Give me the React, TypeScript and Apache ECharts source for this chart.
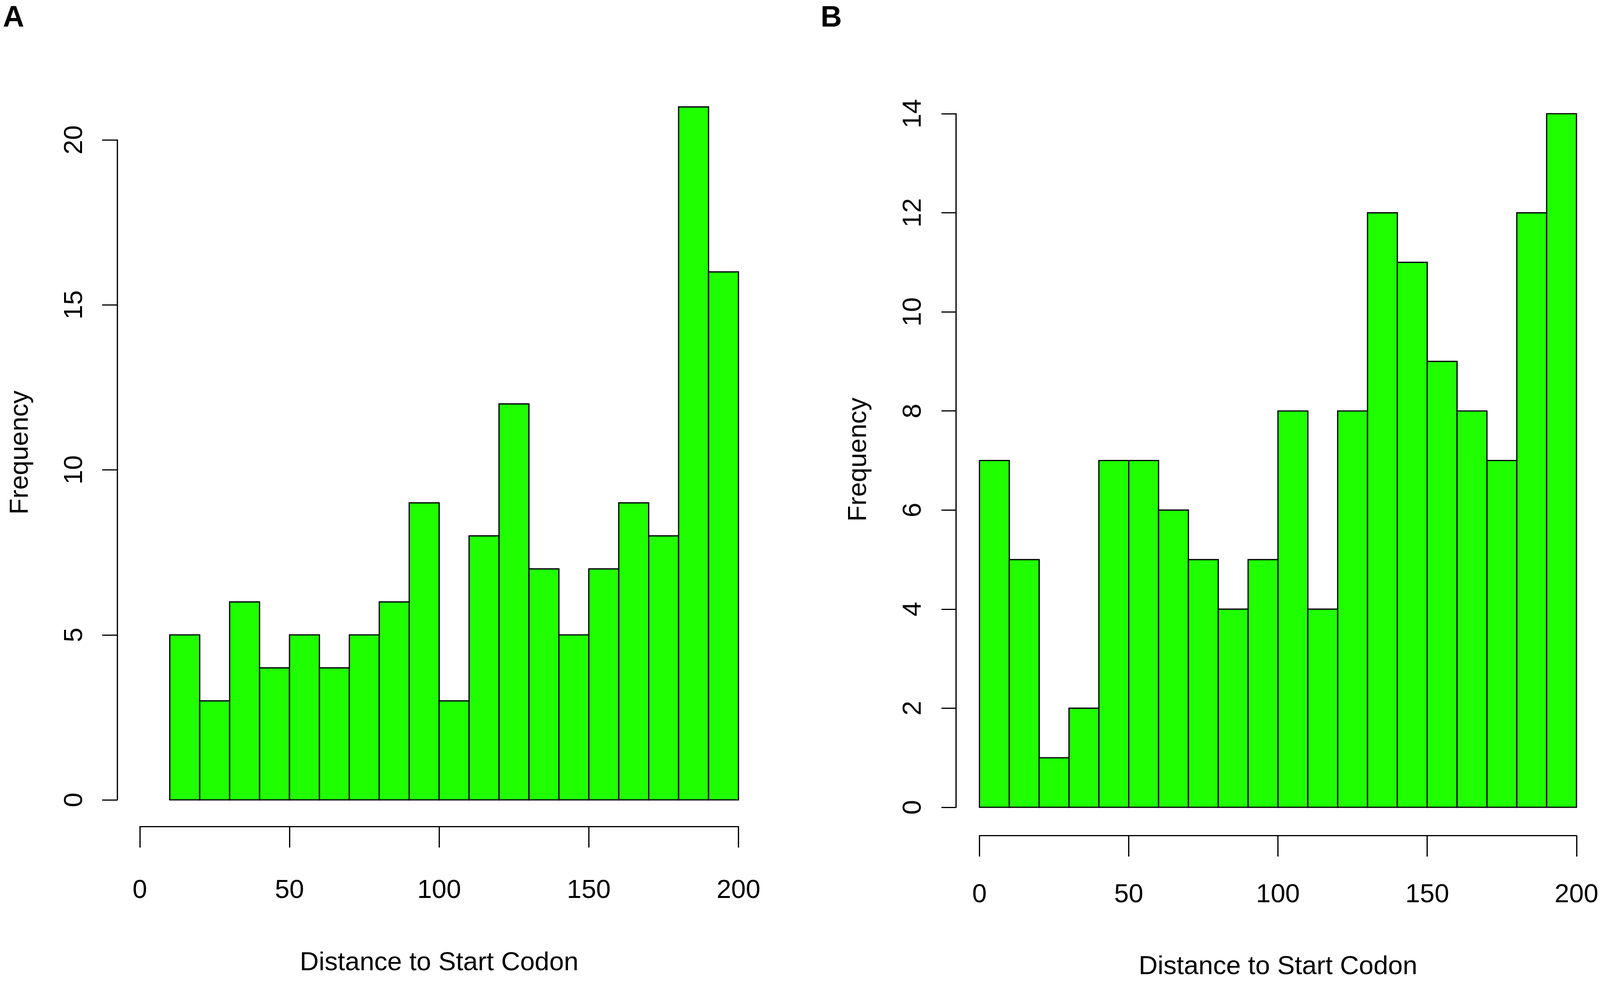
import React, { useEffect, useRef } from "react";
import * as echarts from "echarts";

// ---- Data ----
const breaksA = [10, 20, 30, 40, 50, 60, 70, 80, 90, 100, 110, 120, 130, 140, 150, 160, 170, 180, 190, 200];
const countsA = [5, 3, 6, 4, 5, 4, 5, 6, 9, 3, 8, 12, 7, 5, 7, 9, 8, 21, 16];

const breaksB = [0, 10, 20, 30, 40, 50, 60, 70, 80, 90, 100, 110, 120, 130, 140, 150, 160, 170, 180, 190, 200];
const countsB = [7, 5, 1, 2, 7, 7, 6, 5, 4, 5, 8, 4, 8, 12, 11, 9, 8, 7, 12, 14];

const xTicks = [0, 50, 100, 150, 200];
const yTicksA = [0, 5, 10, 15, 20];
const yTicksB = [0, 2, 4, 6, 8, 10, 12, 14];

const panelLabels = ["A", "B"];
const xTitle = "Distance to Start Codon";
const yTitle = "Frequency";

const GREEN = "#1fff00";
const FONT = "Liberation Sans, Arial, Helvetica, sans-serif";
const REF_W = 4966;
const REF_H = 2531;

function binData(breaks: number[], counts: number[]) {
  return counts.map((c, i) => [breaks[i], breaks[i + 1], c]);
}

export default function App() {
  const ref = useRef<HTMLDivElement>(null);

  useEffect(() => {
    const el = ref.current;
    if (!el) return;
    const chart = echarts.init(el, null, { renderer: "svg" });

    const build = () => {
      const W = el.clientWidth || REF_W;
      const H = el.clientHeight || REF_H;
      const sx = W / REF_W;
      const sy = H / REF_H;
      const sf = Math.sqrt(sx * sy);
      const X = (v: number) => v * sx;
      const Y = (v: number) => v * sy;
      const FS = 74 * sf;
      const LW = Math.max(1, 3.5 * sf);

      const renderBin = (params: any, api: any) => {
        const p0 = api.coord([api.value(0), 0]);
        const p1 = api.coord([api.value(1), api.value(2)]);
        return {
          type: "rect",
          shape: { x: p0[0], y: p1[1], width: p1[0] - p0[0], height: p0[1] - p1[1] },
          style: { fill: GREEN, stroke: "#000", lineWidth: LW },
        };
      };

      const xAxisCfg = (gridIndex: number, offset: number, margin: number, nameGap: number) => ({
        gridIndex,
        type: "value",
        min: xTicks[0],
        max: xTicks[xTicks.length - 1],
        interval: xTicks[1] - xTicks[0],
        offset: Y(offset),
        name: xTitle,
        nameLocation: "middle",
        nameGap: Y(nameGap),
        nameTextStyle: { color: "#000", fontSize: FS, fontFamily: FONT },
        axisLine: { show: true, onZero: false, lineStyle: { color: "#000", width: LW } },
        axisTick: { show: true, length: Y(54), lineStyle: { color: "#000", width: LW } },
        axisLabel: { show: true, color: "#000", fontSize: FS, fontFamily: FONT, margin: Y(margin) },
        splitLine: { show: false },
      });

      const yAxisCfg = (gridIndex: number, ticks: number[], offset: number, tickLen: number) => ({
        gridIndex,
        type: "value",
        min: ticks[0],
        max: ticks[ticks.length - 1],
        interval: ticks[1] - ticks[0],
        offset: X(offset),
        axisLine: { show: true, onZero: false, lineStyle: { color: "#000", width: LW } },
        axisTick: { show: true, length: X(tickLen), lineStyle: { color: "#000", width: LW } },
        axisLabel: { show: true, rotate: 90, color: "#000", fontSize: FS, fontFamily: FONT, margin: X(97) },
        splitLine: { show: false },
      });

      const option: any = {
        animation: false,
        backgroundColor: "#ffffff",
        grid: [
          { left: X(434), top: Y(358), width: X(1858), height: Y(1689) },
          { left: X(3040), top: Y(291), width: X(1853), height: Y(1775) },
        ],
        xAxis: [xAxisCfg(0, 68, 126, 311), xAxisCfg(1, 72, 114, 298)],
        yAxis: [yAxisCfg(0, yTicksA, 70, 47), yAxisCfg(1, yTicksB, 73, 45)],
        series: [
          {
            type: "custom",
            xAxisIndex: 0,
            yAxisIndex: 0,
            clip: false,
            renderItem: renderBin,
            encode: { x: [0, 1], y: 2 },
            data: binData(breaksA, countsA),
          },
          {
            type: "custom",
            xAxisIndex: 1,
            yAxisIndex: 1,
            clip: false,
            renderItem: renderBin,
            encode: { x: [0, 1], y: 2 },
            data: binData(breaksB, countsB),
          },
        ],
        graphic: [
          {
            type: "text",
            x: X(9),
            y: Y(4),
            style: { text: panelLabels[0], fill: "#000", font: `bold ${83 * sf}px ${FONT}`, textAlign: "left", textVerticalAlign: "top" },
          },
          {
            type: "text",
            x: X(2547),
            y: Y(4),
            style: { text: panelLabels[1], fill: "#000", font: `bold ${83 * sf}px ${FONT}`, textAlign: "left", textVerticalAlign: "top" },
          },
          {
            type: "text",
            x: X(58),
            y: Y(1158),
            rotation: Math.PI / 2,
            style: { text: yTitle, fill: "#000", font: `${FS}px ${FONT}`, textAlign: "center", textVerticalAlign: "middle" },
          },
          {
            type: "text",
            x: X(2660),
            y: Y(1176),
            rotation: Math.PI / 2,
            style: { text: yTitle, fill: "#000", font: `${FS}px ${FONT}`, textAlign: "center", textVerticalAlign: "middle" },
          },
        ],
      };
      chart.setOption(option, true);
    };

    build();
    const onResize = () => {
      chart.resize();
      build();
    };
    window.addEventListener("resize", onResize);
    return () => {
      window.removeEventListener("resize", onResize);
      chart.dispose();
    };
  }, []);

  return (
    <div
      ref={ref}
      style={{ position: "fixed", left: 0, top: 0, width: "100vw", height: "100vh", background: "#fff" }}
    />
  );
}
